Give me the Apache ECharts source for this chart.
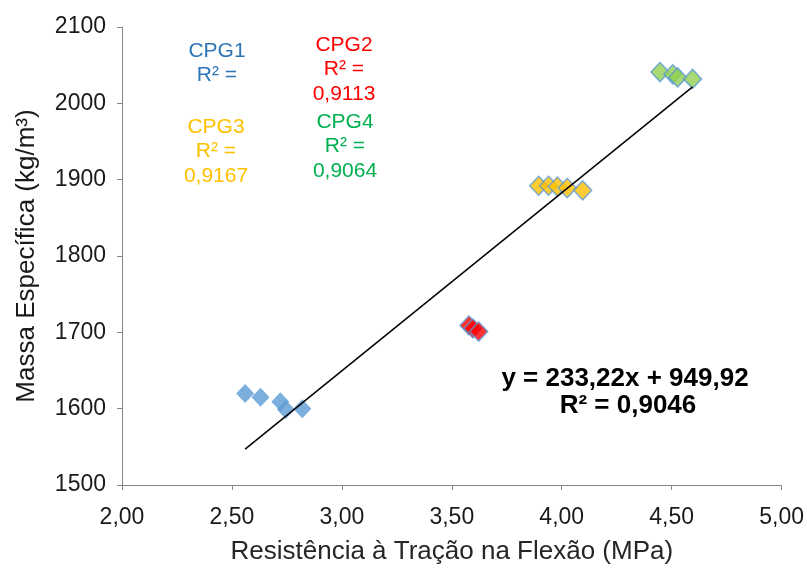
<!DOCTYPE html>
<html>
<head>
<meta charset="utf-8">
<script src="https://cdn.jsdelivr.net/npm/echarts@6/dist/echarts.min.js"></script>
<style>
  html, body { margin: 0; padding: 0; background: #fff; }
  #chart { width: 807px; height: 570px; }
</style>
</head>
<body>
<div id="chart"></div>
<script>
// Flexural tensile strength (MPa) vs. specific mass (kg/m³) per mix group
const cpg1X = [2.56, 2.63, 2.72, 2.745, 2.82];
const cpg1Y = [1620, 1615, 1609, 1599, 1600];
const cpg2X = [3.578, 3.596, 3.622];
const cpg2Y = [1709, 1705, 1701];
const cpg3X = [3.895, 3.94, 3.98, 4.025, 4.095];
const cpg3Y = [1892, 1892, 1891, 1889, 1886];
const cpg4X = [4.447, 4.505, 4.527, 4.595];
const cpg4Y = [2041, 2038, 2034, 2032];

// Overall linear fit y = a·x + b
const fitSlope = 233.22;
const fitIntercept = 949.92;
const fitR2 = '0,9046';

const groupR2 = { CPG1: '', CPG2: '0,9113', CPG3: '0,9167', CPG4: '0,9064' };

const xTicks = { min: 2, max: 5, step: 0.5 };
const yTicks = { min: 1500, max: 2100, step: 100 };

const zip = (xs, ys) => xs.map((x, i) => [x, ys[i]]);
const allX = [].concat(cpg1X, cpg2X, cpg3X, cpg4X);
const xLo = Math.min(...allX), xHi = Math.max(...allX);
const fitLine = [[xLo, fitSlope * xLo + fitIntercept], [xHi, fitSlope * xHi + fitIntercept]];

const FONT = '"Liberation Sans", Arial, sans-serif';
const comma = (v, d) => v.toFixed(d).replace('.', ',');

function diamonds(name, data, fill, border) {
  return {
    name, type: 'scatter', data,
    symbol: 'diamond', symbolSize: [18, 19],
    itemStyle: { color: fill, borderColor: border, borderWidth: border ? 1.5 : 0 },
    z: 2
  };
}

// centred multi-line annotation, one text element per line
function labelBlock(cx, cy, lines, color) {
  return lines.map((t, i) => ({
    type: 'text', x: cx, y: cy + i * 24.5,
    style: { text: t, fill: color, font: '21px ' + FONT,
             textAlign: 'center', textVerticalAlign: 'middle' }
  }));
}

const chart = echarts.init(document.getElementById('chart'));
chart.setOption({
  animation: false,
  grid: { left: 122, right: 19, top: 27, bottom: 85 },
  xAxis: {
    type: 'value', min: xTicks.min, max: xTicks.max, interval: xTicks.step,
    name: 'Resistência à Tração na Flexão (MPa)', nameLocation: 'middle', nameGap: 54,
    nameTextStyle: { fontFamily: FONT, fontSize: 26, color: '#262626' },
    axisLine: { lineStyle: { color: '#868686', width: 1 } },
    axisTick: { show: true, length: 5, lineStyle: { color: '#868686' } },
    axisLabel: { fontFamily: FONT, fontSize: 23, color: '#1a1a1a', margin: 21, formatter: v => comma(v, 2) },
    splitLine: { show: false }
  },
  yAxis: {
    type: 'value', min: yTicks.min, max: yTicks.max, interval: yTicks.step,
    name: 'Massa Específica (kg/m³)', nameLocation: 'middle', nameGap: 82,
    nameTextStyle: { fontFamily: FONT, fontSize: 26, color: '#1a1a1a' },
    axisLine: { show: true, lineStyle: { color: '#868686', width: 1 } },
    axisTick: { show: true, length: 5, lineStyle: { color: '#868686' } },
    axisLabel: { fontFamily: FONT, fontSize: 23, color: '#1a1a1a', margin: 16, formatter: v => String(v) },
    splitLine: { show: false }
  },
  series: [
    diamonds('CPG1', zip(cpg1X, cpg1Y), '#5B9BD5', null),
    diamonds('CPG2', zip(cpg2X, cpg2Y), '#FF0000', '#5B9BD5'),
    diamonds('CPG3', zip(cpg3X, cpg3Y), '#FFC000', '#5B9BD5'),
    diamonds('CPG4', zip(cpg4X, cpg4Y), '#92D050', '#5B9BD5'),
    {
      name: 'Linear', type: 'line', data: fitLine, showSymbol: false, symbol: 'none',
      lineStyle: { color: '#000', width: 1.5 }, z: 3, silent: true
    }
  ],
  graphic: [].concat(
    labelBlock(217, 51, ['CPG1', 'R² =' + (groupR2.CPG1 ? ' ' + groupR2.CPG1 : '')], '#2E75B6'),
    labelBlock(344, 45, ['CPG2', 'R² =', groupR2.CPG2], '#FF0000'),
    labelBlock(216, 127, ['CPG3', 'R² =', groupR2.CPG3], '#FFC000'),
    labelBlock(345, 122, ['CPG4', 'R² =', groupR2.CPG4], '#00B050'),
    [
      { type: 'text', x: 625, y: 379,
        style: { text: 'y = ' + comma(fitSlope, 2) + 'x + ' + comma(fitIntercept, 2), fill: '#000',
                 font: 'bold 26px ' + FONT, textAlign: 'center', textVerticalAlign: 'middle' } },
      { type: 'text', x: 628, y: 406,
        style: { text: 'R² = ' + fitR2, fill: '#000', font: 'bold 26px ' + FONT,
                 textAlign: 'center', textVerticalAlign: 'middle' } }
    ]
  )
});
</script>
</body>
</html>
